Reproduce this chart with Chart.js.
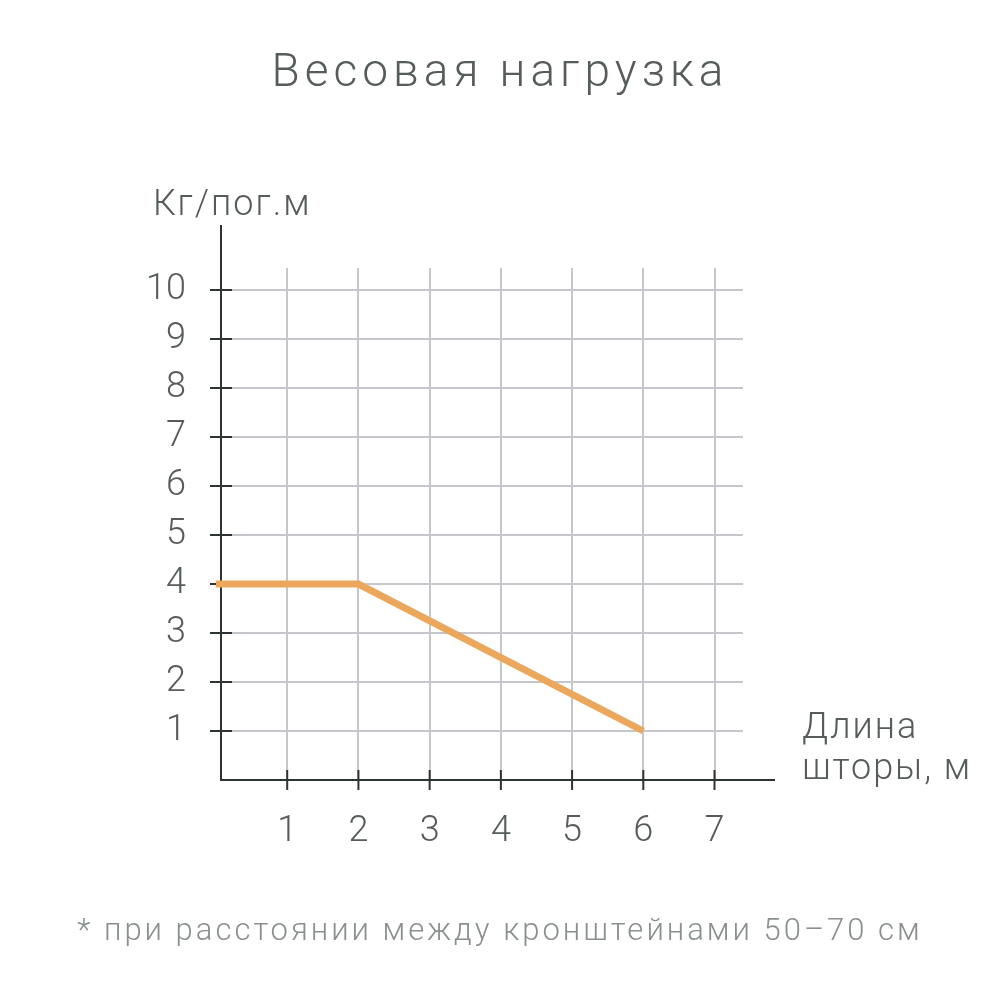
<!DOCTYPE html>
<html><head><meta charset="utf-8">
<script src="https://cdn.jsdelivr.net/npm/chart.js@4"></script>
<style>html,body{margin:0;background:#fff}#w{width:1000px;height:1000px}</style>
</head><body><div id="w"><canvas id="c"></canvas></div>
<script>
const lengths = [0, 2, 6];
const loads = [4, 4, 1];
const xTicks = [1, 2, 3, 4, 5, 6, 7];
const yTicks = [1, 2, 3, 4, 5, 6, 7, 8, 9, 10];
const titleText = 'Весовая нагрузка';
const yTitle = 'Кг/пог.м';
const xTitle = ['Длина', 'шторы, м'];
const footnote = '* при расстоянии между кронштейнами 50–70 см';

const FONT = 'Roboto, "DejaVu Sans", sans-serif';
const textCol = '#565c5c';
const extras = {
  id: 'extras',
  beforeDatasetsDraw(chart) {
    const ctx = chart.ctx, x = chart.scales.x, y = chart.scales.y;
    const ox = x.getPixelForValue(0) + 5, oy = y.getPixelForValue(0);
    ctx.save();
    ctx.strokeStyle = '#2e3333'; ctx.lineWidth = 2;
    ctx.beginPath();
    ctx.moveTo(ox, 225); ctx.lineTo(ox, oy);
    ctx.lineTo(775, oy);
    yTicks.forEach(v => { const p = y.getPixelForValue(v); ctx.moveTo(ox - 11, p); ctx.lineTo(ox + 11, p); });
    xTicks.forEach(v => { const p = x.getPixelForValue(v); ctx.moveTo(p, oy - 10); ctx.lineTo(p, oy + 10); });
    ctx.stroke();
    ctx.restore();
  },
  afterDraw(chart) {
    const ctx = chart.ctx;
    ctx.save();
    ctx.fillStyle = textCol;
    ctx.textBaseline = 'alphabetic';
    ctx.letterSpacing = '5px';
    ctx.font = '300 46px ' + FONT; ctx.textAlign = 'center';
    ctx.fillText(titleText, 500, 86);
    ctx.letterSpacing = '2px';
    ctx.font = '300 36px ' + FONT; ctx.textAlign = 'left';
    ctx.fillText(yTitle, 153, 215);
    ctx.fillText(xTitle[0], 802, 738);
    ctx.fillText(xTitle[1], 802, 779);
    ctx.fillStyle = '#8a9090';
    ctx.letterSpacing = '3px';
    ctx.font = '300 31px ' + FONT; ctx.textAlign = 'center';
    ctx.fillText(footnote, 500, 940);
    ctx.restore();
  }
};

new Chart(document.getElementById('c'), {
  type: 'line',
  data: { datasets: [{ data: lengths.map((v, i) => ({ x: v, y: loads[i] })),
    borderColor: '#eba75c', borderWidth: 7, pointRadius: 0, tension: 0, fill: false, borderCapStyle: 'butt' }] },
  options: {
    responsive: true, maintainAspectRatio: false, animation: false,
    layout: { padding: { left: 0, top: 268, right: 257, bottom: 0 } },
    plugins: { legend: { display: false }, tooltip: { enabled: false } },
    scales: {
      x: { type: 'linear', min: 0, max: 7.4,
        afterFit(s) { s.height = 220; },
        afterBuildTicks(s) { s.ticks = xTicks.map(v => ({ value: v })); },
        grid: { color: '#c6c7cc', lineWidth: 2, drawTicks: false },
        border: { display: false },
        ticks: { padding: 30, color: textCol, font: { family: FONT, size: 36, weight: '300' } } },
      y: { min: 0, max: 10.45,
        afterFit(s) { s.width = 216; },
        afterBuildTicks(s) { s.ticks = yTicks.map(v => ({ value: v })); },
        grid: { color: '#c6c7cc', lineWidth: 2, drawTicks: false },
        border: { display: false },
        ticks: { padding: 30, color: textCol, font: { family: FONT, size: 36, weight: '300' } } }
    }
  },
  plugins: [extras]
});
</script></body></html>
